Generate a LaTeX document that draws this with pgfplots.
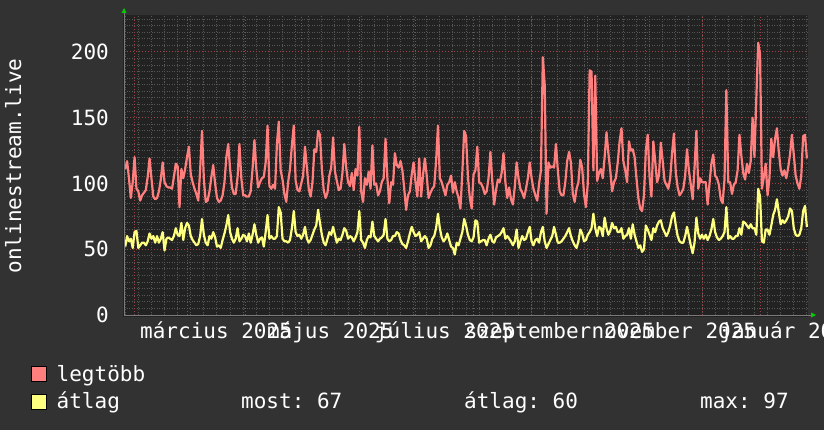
\documentclass[border=0pt]{standalone}
\usepackage{fontspec}
\usepackage{pgfplots}
\usepackage{pgfplotstable}
\pgfplotsset{compat=1.18}

\newfontfamily\rrdmono{DejaVu Sans Mono}
\newcommand\rrdfont{\rrdmono\fontsize{21bp}{25bp}\selectfont\frenchspacing}

\definecolor{bgouter}{HTML}{323232}
\definecolor{canvas}{HTML}{222222}
\definecolor{gridminor}{HTML}{565656}
\definecolor{gridmajor}{HTML}{A04242}
\definecolor{axisgray}{HTML}{7A7A7A}
\definecolor{arrowgreen}{HTML}{00CC00}
\definecolor{maxred}{HTML}{FF7F7F}
\definecolor{avgyellow}{HTML}{FFFF7F}

% day = days since 1 Jan 2025; legtobb = daily max, atlag = daily average
\pgfplotstableread{
day legtobb atlag
26 111 52
27 117 60
28 104 56
29 89 58
30 101 51
31 120 63
32 96 64
33 94 51
34 87 53
35 91 55
36 93 55
37 95 53
38 105 56
39 119 62
40 104 58
41 90 60
42 88 55
43 89 60
44 94 55
45 103 58
46 116 63
47 101 49
48 98 58
49 97 59
50 97 58
51 96 57
52 105 60
53 115 66
54 113 61
55 82 60
56 111 70
57 104 57
58 111 66
59 120 70
60 128 68
61 107 60
62 101 57
63 96 55
64 92 53
65 87 54
66 110 60
67 140 73
68 103 61
69 86 55
70 87 53
71 94 60
72 105 58
73 114 63
74 100 59
75 89 52
76 86 53
77 87 51
78 91 57
79 101 62
80 120 68
81 130 76
82 111 63
83 97 58
84 92 55
85 92 58
86 105 66
87 130 56
88 104 58
89 91 61
90 91 60
91 90 56
92 90 62
93 94 55
94 111 61
95 133 69
96 111 61
97 97 55
98 101 58
99 104 59
100 105 52
101 116 63
102 144 76
103 98 58
104 96 60
105 99 58
106 96 58
107 130 60
108 147 82
109 110 78
110 103 58
111 92 56
112 86 56
113 101 55
114 111 57
115 129 66
116 144 79
117 102 63
118 95 60
119 94 61
120 100 58
121 106 61
122 128 67
123 112 58
124 96 55
125 90 57
126 101 61
127 126 65
128 124 68
129 140 80
130 137 70
131 111 61
132 95 55
133 89 53
134 93 58
135 106 63
136 112 61
137 135 67
138 109 61
139 102 55
140 95 58
141 96 57
142 108 61
143 130 66
144 112 64
145 101 58
146 98 60
147 108 59
148 95 56
149 111 59
150 106 63
151 143 79
152 94 57
153 86 55
154 104 51
155 99 57
156 109 60
157 96 59
158 129 71
159 99 60
160 100 58
161 91 56
162 94 58
163 101 59
164 104 61
165 134 73
166 104 58
167 85 56
168 101 57
169 99 60
170 123 60
171 114 63
172 112 62
173 117 57
174 110 54
175 96 53
176 80 51
177 91 56
178 94 62
179 107 67
180 116 63
181 101 60
182 90 61
183 119 63
184 90 56
185 106 58
186 119 60
187 106 58
188 89 51
189 93 53
190 96 58
191 98 60
192 117 66
193 144 77
194 104 66
195 101 59
196 96 56
197 91 58
198 99 62
199 101 57
200 106 52
201 93 51
202 101 46
203 94 55
204 89 53
205 81 58
206 108 63
207 140 73
208 136 68
209 105 61
210 89 57
211 81 56
212 107 59
213 110 72
214 128 71
215 101 55
216 100 56
217 97 57
218 92 57
219 94 53
220 104 58
221 124 61
222 102 56
223 84 55
224 95 59
225 103 60
226 101 61
227 108 63
228 123 66
229 101 58
230 89 60
231 97 58
232 88 56
233 84 53
234 97 56
235 116 65
236 104 51
237 96 56
238 93 60
239 89 57
240 96 58
241 104 63
242 116 67
243 104 56
244 96 53
245 91 57
246 87 58
247 100 55
248 110 63
249 196 67
250 175 56
251 77 51
252 116 54
253 112 57
254 113 60
255 112 67
256 130 61
257 110 55
258 94 55
259 91 56
260 91 58
261 101 60
262 117 63
263 124 66
264 116 60
265 92 56
266 86 53
267 96 51
268 101 56
269 118 65
270 112 62
271 92 56
272 82 57
273 100 61
274 186 63
275 185 66
276 110 77
277 182 66
278 102 60
279 108 67
280 111 66
281 104 60
282 120 74
283 139 66
284 123 61
285 110 64
286 94 70
287 101 66
288 104 67
289 116 63
290 132 63
291 142 66
292 117 58
293 110 60
294 101 61
295 132 66
296 125 58
297 126 69
298 120 61
299 104 56
300 89 51
301 81 53
302 79 48
303 91 50
304 125 68
305 137 65
306 105 61
307 90 57
308 132 66
309 117 63
310 101 68
311 106 71
312 131 72
313 117 66
314 102 63
315 99 60
316 96 63
317 104 68
318 123 75
319 138 78
320 108 68
321 97 60
322 91 56
323 93 55
324 96 55
325 106 60
326 126 67
327 110 60
328 99 53
329 88 47
330 112 55
331 140 74
332 96 62
333 104 58
334 101 61
335 101 58
336 101 61
337 84 57
338 100 60
339 115 65
340 122 73
341 106 63
342 104 59
343 99 57
344 88 58
345 85 60
346 103 63
347 171 82
348 101 58
349 101 60
350 92 58
351 99 58
352 101 60
353 110 60
354 137 66
355 121 61
356 108 71
357 103 70
358 115 68
359 108 66
360 117 69
361 150 66
362 120 66
363 165 61
364 207 96
365 198 90
366 96 56
367 105 55
368 115 65
369 91 65
370 104 61
371 134 68
372 120 76
373 134 80
374 142 88
375 124 78
376 111 69
377 106 72
378 110 70
379 104 72
380 112 75
381 122 81
382 137 79
383 122 66
384 106 61
385 100 60
386 96 61
387 106 66
388 136 79
389 137 83
390 119 67
}\rrddata

\begin{document}
\begin{tikzpicture}[x=1bp,y=1bp]
\fill[bgouter] (0,0) rectangle (824,430);
\useasboundingbox (0,0) rectangle (824,430);
\fill[canvas] (123,113) rectangle (808,415);
\begin{axis}[
  at={(124bp,115bp)}, anchor=south west,
  scale only axis, width=684bp, height=300bp,
  xmin=25.35, xmax=390.6, ymin=0, ymax=228.1,
  axis background/.style={fill=canvas},
  axis line style={draw=none},
  major tick length=0pt, minor tick length=0pt,
  xtick={74.5,135.5,196.5,258,319,380.5},
  xticklabels={március 2025,május 2025,július 2025,szeptember 2025,november 2025,január 2026},
  extra x ticks={31,59,90,120,151,181,212,243,273,304,334,365},
  extra x tick style={grid=major, xticklabel={}},
  minor xtick={26,33,...,390},
  ytick={0,50,...,200},
  minor ytick={5,10,...,45,55,60,...,95,105,110,...,145,155,160,...,195,205,210,...,225},
  xmajorgrids=false, ymajorgrids=true, xminorgrids=true, yminorgrids=true,
  major grid style={gridmajor, line width=1bp, dash pattern=on 1bp off 2bp},
  minor grid style={gridminor, line width=1bp, dash pattern=on 1bp off 1.5bp},
  tick label style={font=\rrdfont, text=white},
  /pgf/number format/assume math mode=true,
  yticklabel style={anchor=east, inner sep=0pt, xshift=-15bp},
  xticklabel style={anchor=base, inner sep=0pt, yshift=-23bp},
]
\addplot[maxred, line width=2.2bp, line join=round, mark=none] table[x=day, y=legtobb] {\rrddata};
\addplot[avgyellow, line width=2.2bp, line join=round, mark=none] table[x=day, y=atlag] {\rrddata};
\end{axis}
% axes and arrows
\draw[axisgray, line width=1bp] (124,115) -- (811,115);
\draw[axisgray, line width=1bp] (124,115) -- (124,417);
\fill[arrowgreen] (121.5,417) -- (126.5,417) -- (124,422) -- cycle;
\fill[arrowgreen] (811,112.5) -- (811,117.5) -- (816,115) -- cycle;
% vertical title
\node[rotate=90, anchor=base, inner sep=0pt, text=white, font=\rrdfont] at (21,264) {onlinestream.live};
% legend
\draw[black, line width=1bp, fill=maxred] (31.5,48.5) rectangle (46.5,63.5);
\draw[black, line width=1bp, fill=avgyellow] (31.5,20.5) rectangle (46.5,35.5);
\begin{scope}[every node/.style={anchor=base west, inner sep=0pt, text=white, font=\rrdfont}]
\node at (56.5,49) {legtöbb};
\node at (56.5,21.5) {átlag};
\node at (241,21.5) {most: 67};
\node at (464,21.5) {átlag: 60};
\node at (700,21.5) {max: 97};
\end{scope}
\end{tikzpicture}
\end{document}
